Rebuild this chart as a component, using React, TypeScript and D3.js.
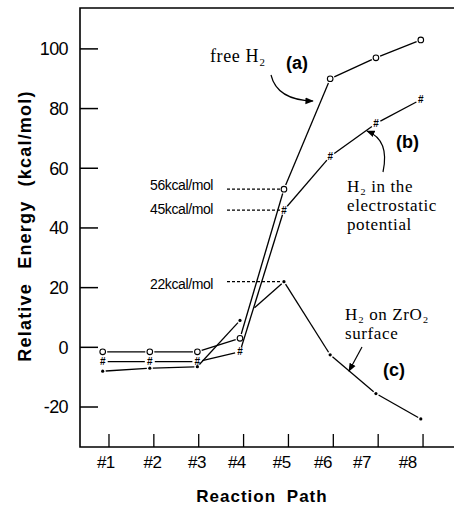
import React from 'react';
import * as d3 from 'd3';

// reaction path steps
const steps = ['#1', '#2', '#3', '#4', '#5', '#6', '#7', '#8'];
// where the points sit along the path axis (scan is slightly off the ticks)
const pointPos = [0.86, 1.91, 2.97, 3.92, 4.9, 5.93, 6.95, 7.95];
const tickPos = [1, 2, 3, 4, 5, 6, 7, 8];
const labelPos = [0.93, 1.97, 2.96, 3.85, 4.85, 5.77, 6.64, 7.66];

// relative energy, kcal/mol
const freeH2 = [-1.5, -1.5, -1.5, 3, 53, 90, 97, 103];
const electrostatic = [-4.8, -4.8, -4.8, -1.5, 46, 64, 75, 83];
const surface = [-8, -7, -6.5, 9, 22, -2.5, -15.5, -24];

const yTicks = [-20, 0, 20, 40, 60, 80, 100];

const W = 454;
const H = 507;
const margin = { top: 8, right: 0, bottom: 60, left: 80 };

const sans = '"Liberation Sans", Arial, sans-serif';
const serif = '"Liberation Serif", "Times New Roman", "DejaVu Serif", serif';

type Pt = [number, number];

// segment between two points, trimmed so the markers stay clear
const trimmed = (a: Pt, b: Pt, g0: number, g1: number) => {
  const dx = b[0] - a[0];
  const dy = b[1] - a[1];
  const len = Math.hypot(dx, dy);
  const ux = dx / len;
  const uy = dy / len;
  return [
    [a[0] + ux * g0, a[1] + uy * g0],
    [b[0] - ux * g1, b[1] - uy * g1],
  ] as Pt[];
};

const App: React.FC = () => {
  const x = d3
    .scaleLinear()
    .domain([0.354, 8.69])
    .range([margin.left, W - margin.right]);
  const y = d3
    .scaleLinear()
    .domain([-33.4, 113.7])
    .range([H - margin.bottom, margin.top]);

  const line = d3.line<Pt>();

  const pts = (vals: number[]): Pt[] => vals.map((v, i) => [x(pointPos[i]), y(v)]);

  const segs = (vals: number[], gap: number, extra: Record<number, number> = {}) => {
    const p = pts(vals);
    const out: string[] = [];
    for (let i = 0; i < p.length - 1; i++) {
      const len = Math.hypot(p[i + 1][0] - p[i][0], p[i + 1][1] - p[i][1]);
      const g0 = extra[i] != null ? extra[i] * len : gap;
      out.push(line(trimmed(p[i], p[i + 1], g0, gap)) || '');
    }
    return out;
  };

  const x0 = margin.left;
  const x1 = W - margin.right;
  const y0 = margin.top;
  const y1 = H - margin.bottom;

  const dashStart = 227;

  return (
    <svg
      width={W}
      height={H}
      style={{ position: 'absolute', left: 0, top: 0, background: '#fff' }}
    >
      <defs>
        <marker
          id="ah"
          viewBox="0 0 10 10"
          refX="9"
          refY="5"
          markerWidth="7"
          markerHeight="7"
          orient="auto"
        >
          <path d="M0,1 L10,5 L0,9 z" fill="#000" />
        </marker>
      </defs>

      {/* frame */}
      <path
        d={`M${x1},${y0} L${x0},${y0} L${x0},${y1} L${x1},${y1}`}
        fill="none"
        stroke="#000"
        strokeWidth={1.6}
      />

      {/* y ticks */}
      {yTicks.map(t => (
        <g key={t}>
          <line x1={x0} x2={x0 + 18} y1={y(t)} y2={y(t)} stroke="#000" strokeWidth={1.5} />
          <text
            x={68}
            y={y(t)}
            dy="0.36em"
            textAnchor="end"
            fontFamily={sans}
            fontSize={18}
            letterSpacing={-0.6}
          >
            {t}
          </text>
        </g>
      ))}

      {/* x ticks */}
      {tickPos.map((t, i) => (
        <g key={t}>
          <line x1={x(t)} x2={x(t)} y1={y1} y2={y1 - 13} stroke="#000" strokeWidth={1.3} />
          <text
            x={x(labelPos[i])}
            y={468}
            textAnchor="middle"
            fontFamily={sans}
            fontSize={17}
            letterSpacing={-0.5}
          >
            {steps[i]}
          </text>
        </g>
      ))}

      {/* axis titles */}
      <text
        x={262}
        y={502}
        textAnchor="middle"
        fontFamily={sans}
        fontWeight="bold"
        fontSize={17}
        letterSpacing={1}
        wordSpacing={5}
      >
        Reaction Path
      </text>
      <text
        transform="translate(31,226) rotate(-90)"
        textAnchor="middle"
        fontFamily={sans}
        fontWeight="bold"
        fontSize={18}
        letterSpacing={1.2}
        wordSpacing={8}
      >
        Relative Energy (kcal/mol)
      </text>

      {/* dashed guides to the step #5 values */}
      {[
        { v: freeH2[4], label: '56kcal/mol', ty: 185 },
        { v: electrostatic[4], label: '45kcal/mol', ty: 209 },
        { v: surface[4], label: '22kcal/mol', ty: 284 },
      ].map(d => (
        <g key={d.label}>
          <line
            x1={dashStart}
            x2={x(pointPos[4]) - 3}
            y1={y(d.v)}
            y2={y(d.v)}
            stroke="#000"
            strokeWidth={1.2}
            strokeDasharray="3,2"
          />
          <text
            x={213}
            y={d.ty}
            dy="0.36em"
            textAnchor="end"
            fontFamily={sans}
            fontSize={14}
            letterSpacing={-0.4}
          >
            {d.label}
          </text>
        </g>
      ))}

      {/* series lines */}
      <g fill="none" stroke="#000" strokeWidth={1.3}>
        {segs(freeH2, 4.5).map((d, i) => (
          <path key={`a${i}`} d={d} />
        ))}
        {segs(electrostatic, 5).map((d, i) => (
          <path key={`b${i}`} d={d} />
        ))}
        {segs(surface, 3, { 3: 0.33 }).map((d, i) => (
          <path key={`c${i}`} d={d} />
        ))}
      </g>

      {/* markers */}
      {pts(freeH2).map((p, i) => (
        <circle key={`ma${i}`} cx={p[0]} cy={p[1]} r={2.8} fill="#fff" stroke="#000" strokeWidth={1.1} />
      ))}
      {pts(electrostatic).map((p, i) => (
        <text
          key={`mb${i}`}
          x={p[0]}
          y={p[1]}
          dy="0.36em"
          textAnchor="middle"
          fontFamily={sans}
          fontWeight="bold"
          fontSize={10}
          fill="#000"
        >
          #
        </text>
      ))}
      {pts(surface).map((p, i) => (
        <circle key={`mc${i}`} cx={p[0]} cy={p[1]} r={1.6} fill="#000" />
      ))}

      {/* annotations */}
      <g fontFamily={serif} fontSize={17} letterSpacing={0.6}>
        <text x={210} y={62} fontSize={18}>free H₂</text>
        <text x={347} y={192}>H₂ in the</text>
        <text x={347} y={211}>electrostatic</text>
        <text x={347} y={230}>potential</text>
        <text x={345} y={320}>H₂ on ZrO₂</text>
        <text x={345} y={339}>surface</text>
      </g>
      <g fontFamily={sans} fontSize={18} fontWeight="bold">
        <text x={286} y={69}>(a)</text>
        <text x={396} y={148}>(b)</text>
        <text x={383} y={376}>(c)</text>
      </g>
      <g fill="none" stroke="#000" strokeWidth={1.2}>
        <path d="M271,75 Q277,100 313,101" markerEnd="url(#ah)" />
        <path d="M383,172 Q390,140 367,131" markerEnd="url(#ah)" />
        <path d="M362,347 L349,371" markerEnd="url(#ah)" />
      </g>
    </svg>
  );
};

export default App;
